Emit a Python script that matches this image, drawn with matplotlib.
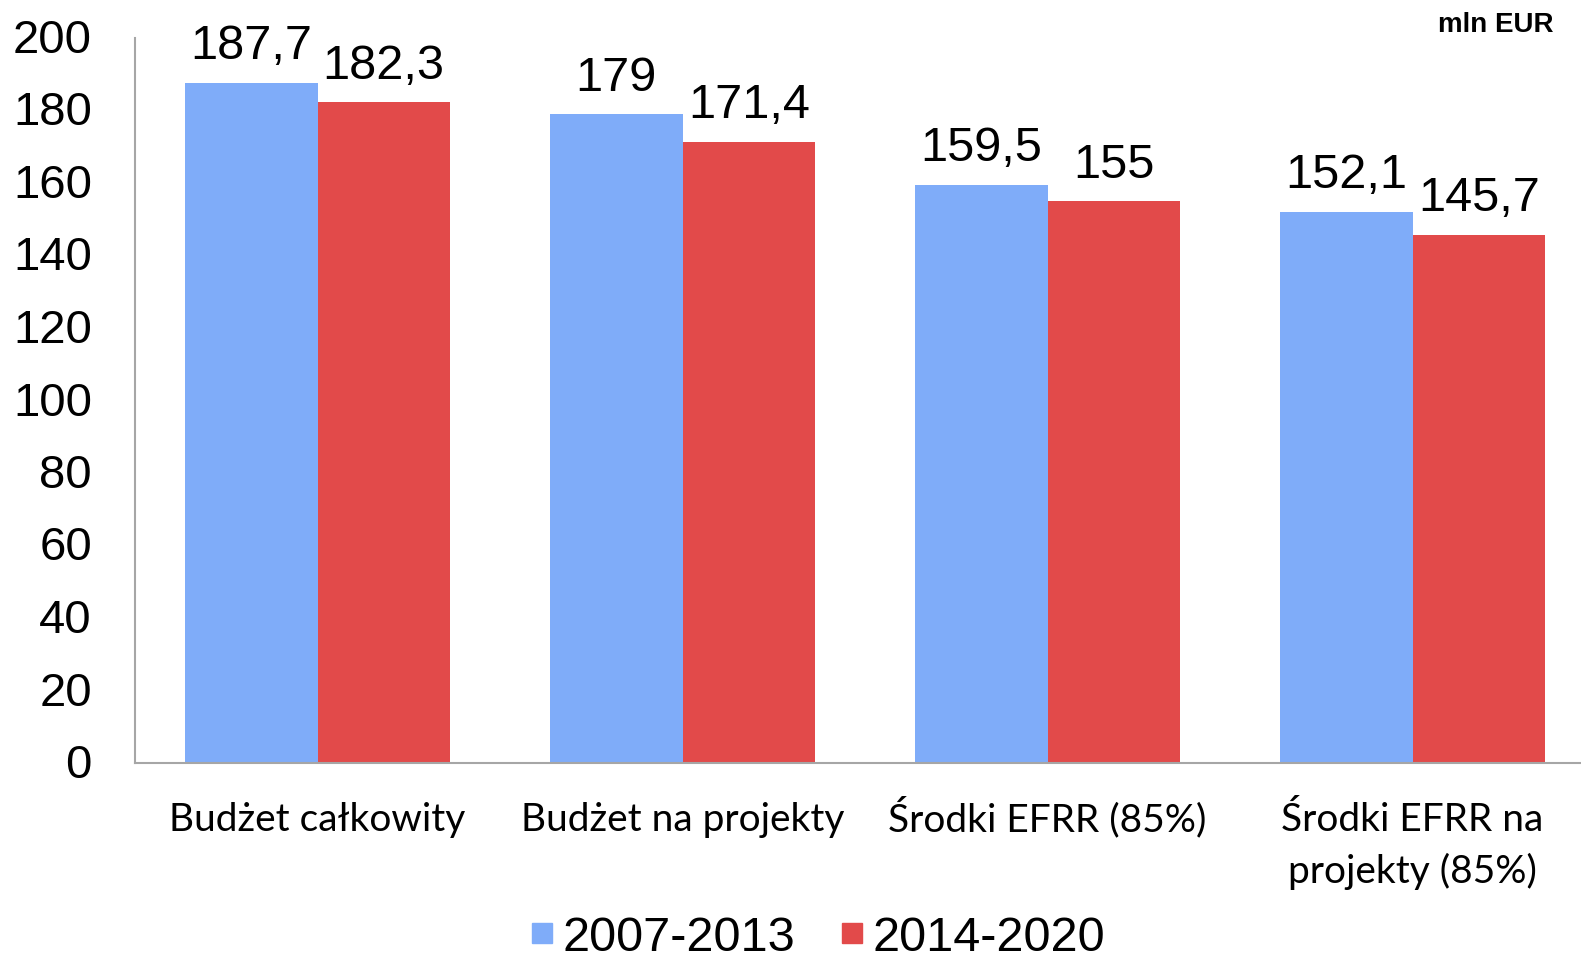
import matplotlib.pyplot as plt
from matplotlib.lines import Line2D
from matplotlib.transforms import ScaledTranslation
import numpy as np

categories = ['Budżet całkowity', 'Budżet na projekty', 'Środki EFRR (85%)', 'Środki EFRR na\nprojekty (85%)']
series_names = ['2007-2013', '2014-2020']
values_2007 = [187.7, 179, 159.5, 152.1]
values_2014 = [182.3, 171.4, 155, 145.7]
yticks = [0, 20, 40, 60, 80, 100, 120, 140, 160, 180, 200]

blue = '#7FACF9'
red = '#E24A4A'

W, H = 1581, 963
fig = plt.figure(figsize=(W / 100, H / 100), dpi=100)
ax = fig.add_axes([135 / W, (H - 763) / H, (1595 - 135) / W, (763 - 38) / H])

x = np.arange(len(categories))
w = 0.363
b1 = ax.bar(x - w / 2, values_2007, w, color=blue)
b2 = ax.bar(x + w / 2, values_2014, w, color=red)

def fmt(v):
    s = ('%.1f' % v).replace('.', ',')
    return s[:-2] if s.endswith(',0') else s

for bars, vals in [(b1, values_2007), (b2, values_2014)]:
    for r, v in zip(bars, vals):
        ax.annotate(fmt(v), (r.get_x() + r.get_width() / 2, v), xytext=(0, 17),
                    textcoords='offset points', ha='center', va='baseline',
                    fontsize=35, family='Liberation Sans')

ax.set_xlim(-0.5, 3.5)
ax.set_ylim(0, 200)
ax.set_yticks(yticks)
ax.set_yticklabels([str(t) for t in yticks], fontsize=34, family='Liberation Sans')
ax.set_xticks(x)
ax.set_xticklabels([])
ax.tick_params(axis='y', length=0, pad=31)
ax.tick_params(axis='x', length=0)
# nudge y labels up a little, like the original
shift = ScaledTranslation(0, 2 / 100, fig.dpi_scale_trans)
for lbl in ax.get_yticklabels():
    lbl.set_transform(lbl.get_transform() + shift)

# category labels, each line on its own baseline
trans = ax.get_xaxis_transform()
for xi, cat in zip(x, categories):
    for j, line in enumerate(cat.split('\n')):
        ax.annotate(line, (xi, 0), xycoords=trans, xytext=(0, -(68 + 52 * j) * 0.72),
                    textcoords='offset points', ha='center', va='baseline',
                    fontsize=28, family='Lato')

for s in ['top', 'right']:
    ax.spines[s].set_visible(False)
for s in ['left', 'bottom']:
    ax.spines[s].set_color('#a6a6a6')
    ax.spines[s].set_linewidth(1.5)

fig.text(1553 / W, 1 - 25 / H, 'mln EUR', ha='right', va='center',
         fontsize=20, fontweight='bold', family='Liberation Sans')

handles = [Line2D([], [], marker='s', linestyle='none', markersize=14, color=c)
           for c in [blue, red]]
fig.legend(handles, series_names, loc='center', bbox_to_anchor=(817 / W, 1 - 938 / H),
           ncol=2, frameon=False, prop={'family': 'Liberation Sans', 'size': 35},
           handletextpad=0.15, columnspacing=0.9, handlelength=0.55,
           borderpad=0.1)

fig.savefig('out.png', dpi=100)
